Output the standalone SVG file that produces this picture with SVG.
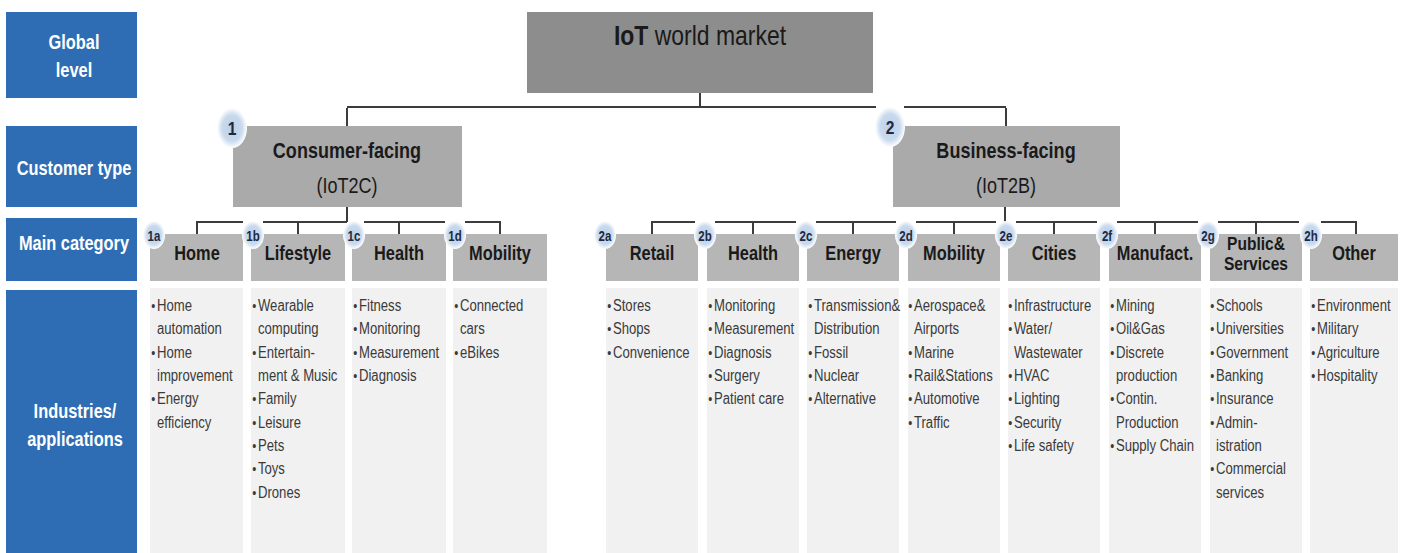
<svg xmlns="http://www.w3.org/2000/svg" width="1403" height="553" viewBox="0 0 1403 553">
  <defs>
    <radialGradient id="badgeFill" cx="50%" cy="50%" r="50%">
      <stop offset="0" stop-color="#BBD0EA"/>
      <stop offset="0.66" stop-color="#C9DAEE"/>
      <stop offset="1" stop-color="#FFFFFF"/>
    </radialGradient>
  </defs>
  <style>
    text{font-family:"Liberation Sans",Arial,sans-serif}
    .lvl{fill:#2E6DB4}
    .lvlt{font-weight:bold;font-size:20px;fill:#FFFFFF;text-anchor:middle}
    .top{fill:#8D8D8D}
    .cust{fill:#AAAAAA}
    .cat{fill:#B6B6B6}
    .col{fill:#F1F1F1}
    .title{font-size:28px;fill:#1A1A1A;text-anchor:middle}
    .ct{font-size:22px;fill:#1A1A1A;text-anchor:middle}
    .catt{font-weight:bold;font-size:20px;fill:#1A1A1A;text-anchor:middle}
    .catt2{font-size:19px}
    .li{font-size:16px;fill:#3A3A3A}
    .b{font-size:14px}
    .badge{fill:url(#badgeFill)}
    .bt{font-weight:bold;font-size:14px;fill:#1E2940;text-anchor:middle}
    .bt1{font-size:19px}
    .conn{stroke:#3C3C3C;stroke-width:2;fill:none}
  </style>

  <rect width="1403" height="553" fill="#FFFFFF"/>

  <!-- level labels on the left; text is narrowed horizontally to a condensed face -->
  <g id="level-global">
    <rect class="lvl" x="6" y="12" width="131" height="86"/>
    <text class="lvlt" transform="translate(74 0) scale(.82 1)" y="49">Global</text>
    <text class="lvlt" transform="translate(74 0) scale(.82 1)" y="77">level</text>
  </g>
  <g id="level-customer-type">
    <rect class="lvl" x="6" y="126" width="131" height="81"/>
    <text class="lvlt" transform="translate(74 0) scale(.82 1)" y="175">Customer type</text>
  </g>
  <g id="level-main-category">
    <rect class="lvl" x="6" y="218" width="131" height="63"/>
    <text class="lvlt" transform="translate(74 0) scale(.82 1)" y="250">Main category</text>
  </g>
  <g id="level-industries">
    <rect class="lvl" x="6" y="290" width="131" height="263"/>
    <text class="lvlt" transform="translate(75 0) scale(.82 1)" y="418">Industries/</text>
    <text class="lvlt" transform="translate(75 0) scale(.82 1)" y="446">applications</text>
  </g>

  <!-- column backgrounds of the industries row -->
  <g id="columns">
    <rect class="col" x="150" y="288" width="93" height="265"/>
    <rect class="col" x="251" y="288" width="94" height="265"/>
    <rect class="col" x="352" y="288" width="94" height="265"/>
    <rect class="col" x="453" y="288" width="94" height="265"/>
    <rect class="col" x="606" y="288" width="92" height="265"/>
    <rect class="col" x="707" y="288" width="92" height="265"/>
    <rect class="col" x="807" y="288" width="92" height="265"/>
    <rect class="col" x="908" y="288" width="92" height="265"/>
    <rect class="col" x="1008" y="288" width="92" height="265"/>
    <rect class="col" x="1109" y="288" width="92" height="265"/>
    <rect class="col" x="1210" y="288" width="92" height="265"/>
    <rect class="col" x="1310" y="288" width="88" height="265"/>
  </g>

  <!-- tree connectors -->
  <g id="connectors" class="conn">
    <path d="M700 93V107M347 107H876M904 107H1006M347 108V127M1006 108V127"/>
    <path d="M347 207V222M197 222H243M263 222H347M364 222H445M465 222H500M197 221V234M298 222V234M399 222V234M500 221V234"/>
    <path d="M1005 207V222M652 222H695M715 222H796M816 222H896M916 222H996M1016 222H1097M1117 222H1198M1218 222H1299M1321 222H1356M652 221V234M753 222V234M853 222V234M954 222V234M1054 222V234M1155 222V234M1256 222V234M1356 221V234"/>
  </g>

  <!-- global level -->
  <g id="iot-world-market">
    <rect class="top" x="527" y="12" width="346" height="81"/>
    <text class="title" transform="translate(700 0) scale(.82 1)" y="45"><tspan font-weight="bold">IoT</tspan> world market</text>
  </g>

  <!-- customer types -->
  <g id="consumer-facing">
    <rect class="cust" x="233" y="126" width="229" height="81"/>
    <text class="ct" transform="translate(347 0) scale(.82 1)" y="158" font-weight="bold">Consumer-facing</text>
    <text class="ct" transform="translate(347 0) scale(.82 1)" y="193">(IoT2C)</text>
    <ellipse class="badge" cx="232" cy="128" rx="15" ry="20"/>
    <text class="bt bt1" transform="translate(232 0) scale(.82 1)" y="135">1</text>
  </g>
  <g id="business-facing">
    <rect class="cust" x="893" y="126" width="227" height="81"/>
    <text class="ct" transform="translate(1006 0) scale(.82 1)" y="158" font-weight="bold">Business-facing</text>
    <text class="ct" transform="translate(1006 0) scale(.82 1)" y="193">(IoT2B)</text>
    <ellipse class="badge" cx="890" cy="127" rx="15" ry="20"/>
    <text class="bt bt1" transform="translate(890 0) scale(.82 1)" y="134">2</text>
  </g>

  <!-- consumer categories -->
  <g id="cat-1a-home">
    <rect class="cat" x="150" y="234" width="93" height="47"/>
    <text class="catt" transform="translate(197 0) scale(.82 1)" y="260">Home</text>
    <ellipse class="badge" cx="154" cy="235" rx="11" ry="14"/>
    <text class="bt" transform="translate(154 0) scale(.82 1)" y="241">1a</text>
    <g transform="translate(150 0) scale(.82 1)">
      <text class="li" x="1.5" y="311"><tspan class="b">•</tspan><tspan x="8.5">Home</tspan></text>
      <text class="li" x="8.5" y="334">automation</text>
      <text class="li" x="1.5" y="358"><tspan class="b">•</tspan><tspan x="8.5">Home</tspan></text>
      <text class="li" x="8.5" y="381">improvement</text>
      <text class="li" x="1.5" y="404"><tspan class="b">•</tspan><tspan x="8.5">Energy</tspan></text>
      <text class="li" x="8.5" y="428">efficiency</text>
    </g>
  </g>
  <g id="cat-1b-lifestyle">
    <rect class="cat" x="251" y="234" width="94" height="47"/>
    <text class="catt" transform="translate(298 0) scale(.82 1)" y="260">Lifestyle</text>
    <ellipse class="badge" cx="253" cy="235" rx="11" ry="14"/>
    <text class="bt" transform="translate(253 0) scale(.82 1)" y="241">1b</text>
    <g transform="translate(251 0) scale(.82 1)">
      <text class="li" x="1.5" y="311"><tspan class="b">•</tspan><tspan x="8.5">Wearable</tspan></text>
      <text class="li" x="8.5" y="334">computing</text>
      <text class="li" x="1.5" y="358"><tspan class="b">•</tspan><tspan x="8.5">Entertain-</tspan></text>
      <text class="li" x="8.5" y="381">ment &amp; Music</text>
      <text class="li" x="1.5" y="404"><tspan class="b">•</tspan><tspan x="8.5">Family</tspan></text>
      <text class="li" x="1.5" y="428"><tspan class="b">•</tspan><tspan x="8.5">Leisure</tspan></text>
      <text class="li" x="1.5" y="451"><tspan class="b">•</tspan><tspan x="8.5">Pets</tspan></text>
      <text class="li" x="1.5" y="474"><tspan class="b">•</tspan><tspan x="8.5">Toys</tspan></text>
      <text class="li" x="1.5" y="498"><tspan class="b">•</tspan><tspan x="8.5">Drones</tspan></text>
    </g>
  </g>
  <g id="cat-1c-health">
    <rect class="cat" x="352" y="234" width="94" height="47"/>
    <text class="catt" transform="translate(399 0) scale(.82 1)" y="260">Health</text>
    <ellipse class="badge" cx="354" cy="235" rx="11" ry="14"/>
    <text class="bt" transform="translate(354 0) scale(.82 1)" y="241">1c</text>
    <g transform="translate(352 0) scale(.82 1)">
      <text class="li" x="1.5" y="311"><tspan class="b">•</tspan><tspan x="8.5">Fitness</tspan></text>
      <text class="li" x="1.5" y="334"><tspan class="b">•</tspan><tspan x="8.5">Monitoring</tspan></text>
      <text class="li" x="1.5" y="358"><tspan class="b">•</tspan><tspan x="8.5">Measurement</tspan></text>
      <text class="li" x="1.5" y="381"><tspan class="b">•</tspan><tspan x="8.5">Diagnosis</tspan></text>
    </g>
  </g>
  <g id="cat-1d-mobility">
    <rect class="cat" x="453" y="234" width="94" height="47"/>
    <text class="catt" transform="translate(500 0) scale(.82 1)" y="260">Mobility</text>
    <ellipse class="badge" cx="455" cy="235" rx="11" ry="14"/>
    <text class="bt" transform="translate(455 0) scale(.82 1)" y="241">1d</text>
    <g transform="translate(453 0) scale(.82 1)">
      <text class="li" x="1.5" y="311"><tspan class="b">•</tspan><tspan x="8.5">Connected</tspan></text>
      <text class="li" x="8.5" y="334">cars</text>
      <text class="li" x="1.5" y="358"><tspan class="b">•</tspan><tspan x="8.5">eBikes</tspan></text>
    </g>
  </g>

  <!-- business categories -->
  <g id="cat-2a-retail">
    <rect class="cat" x="606" y="234" width="92" height="47"/>
    <text class="catt" transform="translate(652 0) scale(.82 1)" y="260">Retail</text>
    <ellipse class="badge" cx="605" cy="235" rx="11" ry="14"/>
    <text class="bt" transform="translate(605 0) scale(.82 1)" y="241">2a</text>
    <g transform="translate(606 0) scale(.82 1)">
      <text class="li" x="1.5" y="311"><tspan class="b">•</tspan><tspan x="8.5">Stores</tspan></text>
      <text class="li" x="1.5" y="334"><tspan class="b">•</tspan><tspan x="8.5">Shops</tspan></text>
      <text class="li" x="1.5" y="358"><tspan class="b">•</tspan><tspan x="8.5">Convenience</tspan></text>
    </g>
  </g>
  <g id="cat-2b-health">
    <rect class="cat" x="707" y="234" width="92" height="47"/>
    <text class="catt" transform="translate(753 0) scale(.82 1)" y="260">Health</text>
    <ellipse class="badge" cx="705" cy="235" rx="11" ry="14"/>
    <text class="bt" transform="translate(705 0) scale(.82 1)" y="241">2b</text>
    <g transform="translate(707 0) scale(.82 1)">
      <text class="li" x="1.5" y="311"><tspan class="b">•</tspan><tspan x="8.5">Monitoring</tspan></text>
      <text class="li" x="1.5" y="334"><tspan class="b">•</tspan><tspan x="8.5">Measurement</tspan></text>
      <text class="li" x="1.5" y="358"><tspan class="b">•</tspan><tspan x="8.5">Diagnosis</tspan></text>
      <text class="li" x="1.5" y="381"><tspan class="b">•</tspan><tspan x="8.5">Surgery</tspan></text>
      <text class="li" x="1.5" y="404"><tspan class="b">•</tspan><tspan x="8.5">Patient care</tspan></text>
    </g>
  </g>
  <g id="cat-2c-energy">
    <rect class="cat" x="807" y="234" width="92" height="47"/>
    <text class="catt" transform="translate(853 0) scale(.82 1)" y="260">Energy</text>
    <ellipse class="badge" cx="806" cy="235" rx="11" ry="14"/>
    <text class="bt" transform="translate(806 0) scale(.82 1)" y="241">2c</text>
    <g transform="translate(807 0) scale(.82 1)">
      <text class="li" x="1.5" y="311"><tspan class="b">•</tspan><tspan x="8.5">Transmission&amp;</tspan></text>
      <text class="li" x="8.5" y="334">Distribution</text>
      <text class="li" x="1.5" y="358"><tspan class="b">•</tspan><tspan x="8.5">Fossil</tspan></text>
      <text class="li" x="1.5" y="381"><tspan class="b">•</tspan><tspan x="8.5">Nuclear</tspan></text>
      <text class="li" x="1.5" y="404"><tspan class="b">•</tspan><tspan x="8.5">Alternative</tspan></text>
    </g>
  </g>
  <g id="cat-2d-mobility">
    <rect class="cat" x="908" y="234" width="92" height="47"/>
    <text class="catt" transform="translate(954 0) scale(.82 1)" y="260">Mobility</text>
    <ellipse class="badge" cx="906" cy="235" rx="11" ry="14"/>
    <text class="bt" transform="translate(906 0) scale(.82 1)" y="241">2d</text>
    <g transform="translate(907 0) scale(.82 1)">
      <text class="li" x="1.5" y="311"><tspan class="b">•</tspan><tspan x="8.5">Aerospace&amp;</tspan></text>
      <text class="li" x="8.5" y="334">Airports</text>
      <text class="li" x="1.5" y="358"><tspan class="b">•</tspan><tspan x="8.5">Marine</tspan></text>
      <text class="li" x="1.5" y="381"><tspan class="b">•</tspan><tspan x="8.5">Rail&amp;Stations</tspan></text>
      <text class="li" x="1.5" y="404"><tspan class="b">•</tspan><tspan x="8.5">Automotive</tspan></text>
      <text class="li" x="1.5" y="428"><tspan class="b">•</tspan><tspan x="8.5">Traffic</tspan></text>
    </g>
  </g>
  <g id="cat-2e-cities">
    <rect class="cat" x="1008" y="234" width="92" height="47"/>
    <text class="catt" transform="translate(1054 0) scale(.82 1)" y="260">Cities</text>
    <ellipse class="badge" cx="1006" cy="235" rx="11" ry="14"/>
    <text class="bt" transform="translate(1006 0) scale(.82 1)" y="241">2e</text>
    <g transform="translate(1007 0) scale(.82 1)">
      <text class="li" x="1.5" y="311"><tspan class="b">•</tspan><tspan x="8.5">Infrastructure</tspan></text>
      <text class="li" x="1.5" y="334"><tspan class="b">•</tspan><tspan x="8.5">Water/</tspan></text>
      <text class="li" x="8.5" y="358">Wastewater</text>
      <text class="li" x="1.5" y="381"><tspan class="b">•</tspan><tspan x="8.5">HVAC</tspan></text>
      <text class="li" x="1.5" y="404"><tspan class="b">•</tspan><tspan x="8.5">Lighting</tspan></text>
      <text class="li" x="1.5" y="428"><tspan class="b">•</tspan><tspan x="8.5">Security</tspan></text>
      <text class="li" x="1.5" y="451"><tspan class="b">•</tspan><tspan x="8.5">Life safety</tspan></text>
    </g>
  </g>
  <g id="cat-2f-manufacturing">
    <rect class="cat" x="1109" y="234" width="92" height="47"/>
    <text class="catt" transform="translate(1155 0) scale(.82 1)" y="260">Manufact.</text>
    <ellipse class="badge" cx="1107" cy="235" rx="11" ry="14"/>
    <text class="bt" transform="translate(1107 0) scale(.82 1)" y="241">2f</text>
    <g transform="translate(1109 0) scale(.82 1)">
      <text class="li" x="1.5" y="311"><tspan class="b">•</tspan><tspan x="8.5">Mining</tspan></text>
      <text class="li" x="1.5" y="334"><tspan class="b">•</tspan><tspan x="8.5">Oil&amp;Gas</tspan></text>
      <text class="li" x="1.5" y="358"><tspan class="b">•</tspan><tspan x="8.5">Discrete</tspan></text>
      <text class="li" x="8.5" y="381">production</text>
      <text class="li" x="1.5" y="404"><tspan class="b">•</tspan><tspan x="8.5">Contin.</tspan></text>
      <text class="li" x="8.5" y="428">Production</text>
      <text class="li" x="1.5" y="451"><tspan class="b">•</tspan><tspan x="8.5">Supply Chain</tspan></text>
    </g>
  </g>
  <g id="cat-2g-public-services">
    <rect class="cat" x="1210" y="234" width="92" height="47"/>
    <text class="catt catt2" transform="translate(1256 0) scale(.82 1)" y="250">Public&amp;</text>
    <text class="catt catt2" transform="translate(1256 0) scale(.82 1)" y="270">Services</text>
    <ellipse class="badge" cx="1208" cy="235" rx="11" ry="14"/>
    <text class="bt" transform="translate(1208 0) scale(.82 1)" y="241">2g</text>
    <g transform="translate(1209 0) scale(.82 1)">
      <text class="li" x="1.5" y="311"><tspan class="b">•</tspan><tspan x="8.5">Schools</tspan></text>
      <text class="li" x="1.5" y="334"><tspan class="b">•</tspan><tspan x="8.5">Universities</tspan></text>
      <text class="li" x="1.5" y="358"><tspan class="b">•</tspan><tspan x="8.5">Government</tspan></text>
      <text class="li" x="1.5" y="381"><tspan class="b">•</tspan><tspan x="8.5">Banking</tspan></text>
      <text class="li" x="1.5" y="404"><tspan class="b">•</tspan><tspan x="8.5">Insurance</tspan></text>
      <text class="li" x="1.5" y="428"><tspan class="b">•</tspan><tspan x="8.5">Admin-</tspan></text>
      <text class="li" x="8.5" y="451">istration</text>
      <text class="li" x="1.5" y="474"><tspan class="b">•</tspan><tspan x="8.5">Commercial</tspan></text>
      <text class="li" x="8.5" y="498">services</text>
    </g>
  </g>
  <g id="cat-2h-other">
    <rect class="cat" x="1310" y="234" width="88" height="47"/>
    <text class="catt" transform="translate(1354 0) scale(.82 1)" y="260">Other</text>
    <ellipse class="badge" cx="1311" cy="235" rx="11" ry="14"/>
    <text class="bt" transform="translate(1311 0) scale(.82 1)" y="241">2h</text>
    <g transform="translate(1310 0) scale(.82 1)">
      <text class="li" x="1.5" y="311"><tspan class="b">•</tspan><tspan x="8.5">Environment</tspan></text>
      <text class="li" x="1.5" y="334"><tspan class="b">•</tspan><tspan x="8.5">Military</tspan></text>
      <text class="li" x="1.5" y="358"><tspan class="b">•</tspan><tspan x="8.5">Agriculture</tspan></text>
      <text class="li" x="1.5" y="381"><tspan class="b">•</tspan><tspan x="8.5">Hospitality</tspan></text>
    </g>
  </g>
</svg>
